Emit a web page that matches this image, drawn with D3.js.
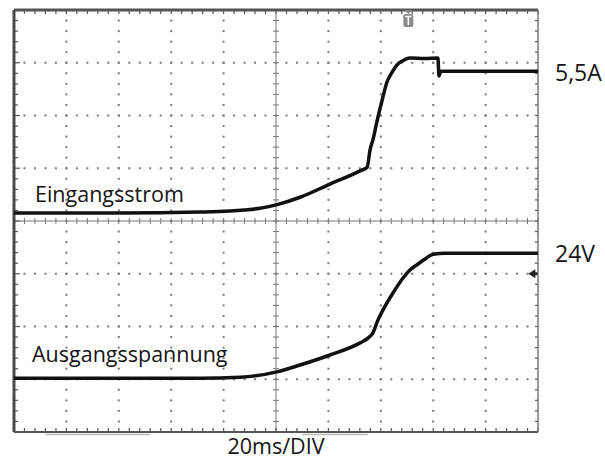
<!DOCTYPE html>
<html>
<head>
<meta charset="utf-8">
<script src="https://cdn.jsdelivr.net/npm/d3@7"></script>
<style>
  body { margin: 0; background: #fff; }
  text { font-family: "Open Sans", sans-serif; fill: #141414; }
</style>
</head>
<body>
<script>
// trace data: time in ms (20 ms/div), level in screen divisions (0 = centre line)
const stromTime  = [0, 40, 71, 82.4, 88, 93.9, 100.4, 109.2, 120.6, 132.1, 134.8, 135.9, 137.0, 138.5, 140.5, 142.4, 144.3, 146.2, 148.1, 151.1, 156.9, 161.8, 162.2, 163.0, 166.4, 200]
const stromLevel = [0.15, 0.15, 0.17, 0.19, 0.21, 0.24, 0.31, 0.45, 0.70, 0.95, 1.02, 1.35, 1.54, 1.88, 2.29, 2.64, 2.82, 2.96, 3.03, 3.09, 3.08, 3.09, 2.75, 2.84, 2.84, 2.84]

const spannTime  = [0, 40, 71, 86.3, 100.4, 109.2, 120.6, 132.1, 135.1, 137.0, 138.9, 140.8, 144.7, 148.5, 151.1, 153.8, 156.9, 160.0, 164.6, 200]
const spannLevel = [-2.98, -2.98, -2.98, -2.96, -2.86, -2.73, -2.54, -2.31, -2.22, -2.12, -1.88, -1.69, -1.36, -1.08, -0.93, -0.83, -0.72, -0.63, -0.61, -0.61]

const traceNames = ["Eingangsstrom", "Ausgangsspannung"]
const levelLabels = ["5,5A", "24V"]
const timebase = "20ms/DIV"

const width = 605
const height = 459

const x = d3.scaleLinear([0, 200], [14, 538])
const y = d3.scaleLinear([-4, 4], [432, 10])

const svg = d3.select("body").append("svg")
  .attr("width", width)
  .attr("height", height)

const majorX = d3.range(0, 201, 20)
const majorY = d3.range(-4, 4.01, 1)
const minorX = d3.range(0, 200.01, 4)
const minorY = d3.range(-4, 4.01, 0.2)

// dotted grid
const grid = svg.append("g").attr("fill", "#7a7a7a")
majorX.filter(v => v > 0 && v < 200 && v != 100).forEach(v => {
  grid.selectAll(null).data(minorY.slice(1, -1)).join("rect")
    .attr("x", x(v) - 1).attr("y", d => y(d) - 1)
    .attr("width", 2).attr("height", 2)
})
majorY.filter(v => v > -4 && v < 4 && v != 0).forEach(v => {
  grid.selectAll(null).data(minorX.slice(1, -1)).join("rect")
    .attr("x", d => x(d) - 1).attr("y", y(v) - 1)
    .attr("width", 2).attr("height", 2)
})

// centre axes with cross ticks
const axes = svg.append("g").attr("stroke", "#777").attr("stroke-width", 1)
axes.append("line").attr("x1", x(0)).attr("x2", x(200)).attr("y1", y(0)).attr("y2", y(0))
axes.append("line").attr("x1", x(100)).attr("x2", x(100)).attr("y1", y(-4)).attr("y2", y(4))
axes.selectAll(null).data(minorX).join("line")
  .attr("x1", d => x(d)).attr("x2", d => x(d))
  .attr("y1", y(0) - 3).attr("y2", y(0) + 3)
axes.selectAll(null).data(minorY).join("line")
  .attr("y1", d => y(d)).attr("y2", d => y(d))
  .attr("x1", x(100) - 3).attr("x2", x(100) + 3)

// border ticks
const ticks = svg.append("g").attr("stroke", "#555").attr("stroke-width", 1.2)
ticks.selectAll(null).data(minorY).join("line")
  .attr("x1", x(0)).attr("x2", d => x(0) + (Math.abs(d % 1) < 0.01 ? 6 : 4))
  .attr("y1", d => y(d)).attr("y2", d => y(d))
ticks.selectAll(null).data(minorY).join("line")
  .attr("x1", x(200)).attr("x2", x(200) - 3)
  .attr("y1", d => y(d)).attr("y2", d => y(d))
ticks.selectAll(null).data(minorX).join("line")
  .attr("x1", d => x(d)).attr("x2", d => x(d))
  .attr("y1", y(4)).attr("y2", y(4) + 4)
ticks.selectAll(null).data(minorX).join("line")
  .attr("x1", d => x(d)).attr("x2", d => x(d))
  .attr("y1", y(-4)).attr("y2", y(-4) - 4)

// frame
svg.append("line").attr("x1", x(0)).attr("x2", x(200)).attr("y1", y(4)).attr("y2", y(4))
  .attr("stroke", "#555").attr("stroke-width", 3)
svg.append("line").attr("x1", x(0)).attr("x2", x(0)).attr("y1", y(4)).attr("y2", y(-4))
  .attr("stroke", "#4a4a4a").attr("stroke-width", 3)
svg.append("line").attr("x1", x(0)).attr("x2", x(200)).attr("y1", y(-4)).attr("y2", y(-4))
  .attr("stroke", "#555").attr("stroke-width", 2)
svg.append("line").attr("x1", x(200)).attr("x2", x(200)).attr("y1", y(4)).attr("y2", y(-4))
  .attr("stroke", "#777").attr("stroke-width", 1.5)
svg.append("line").attr("x1", x(12)).attr("x2", x(52)).attr("y1", y(-4) + 2.5).attr("y2", y(-4) + 2.5)
  .attr("stroke", "#bbb").attr("stroke-width", 1.5)
svg.append("line").attr("x1", x(110)).attr("x2", x(135)).attr("y1", y(-4) + 2.5).attr("y2", y(-4) + 2.5)
  .attr("stroke", "#bbb").attr("stroke-width", 1.5)

// traces
const line = d3.line().curve(d3.curveMonotoneX)
const strom = stromTime.map((t, i) => [x(t), y(stromLevel[i])])
const spann = spannTime.map((t, i) => [x(t), y(spannLevel[i])])
svg.append("path").attr("d", line(strom))
  .attr("fill", "none").attr("stroke", "#111").attr("stroke-width", 3.5)
svg.append("path").attr("d", line(spann))
  .attr("fill", "none").attr("stroke", "#111").attr("stroke-width", 3.5)

// trigger marker
const trig = svg.append("g").attr("transform", `translate(${x(150.5)}, 10)`)
trig.append("path").attr("d", "M-4,0 L4,0 L0,4 Z").attr("fill", "#888")
trig.append("rect").attr("x", -5).attr("y", 4).attr("width", 10).attr("height", 13)
  .attr("rx", 2).attr("fill", "#8c8c8c")
trig.append("path").attr("d", "M-3,6.5 H3 M0,6.5 V15").attr("stroke", "#fff").attr("stroke-width", 1.5)

// reference arrow
svg.append("path")
  .attr("d", `M${x(196.3)},${y(-1)} l7,-4.5 v3 h2 v3 h-2 v3 Z`)
  .attr("fill", "#222")

// labels
svg.append("text").attr("x", 35).attr("y", 202).attr("font-size", 21.5).text(traceNames[0])
svg.append("text").attr("x", 32).attr("y", 362).attr("font-size", 21.5).text(traceNames[1])
svg.append("text").attr("x", 555).attr("y", 81).attr("font-size", 23).text(levelLabels[0])
svg.append("text").attr("x", 555).attr("y", 262).attr("font-size", 23).text(levelLabels[1])
svg.append("text").attr("x", x(100)).attr("y", 454).attr("font-size", 21.5)
  .attr("text-anchor", "middle").text(timebase)
</script>
</body>
</html>
